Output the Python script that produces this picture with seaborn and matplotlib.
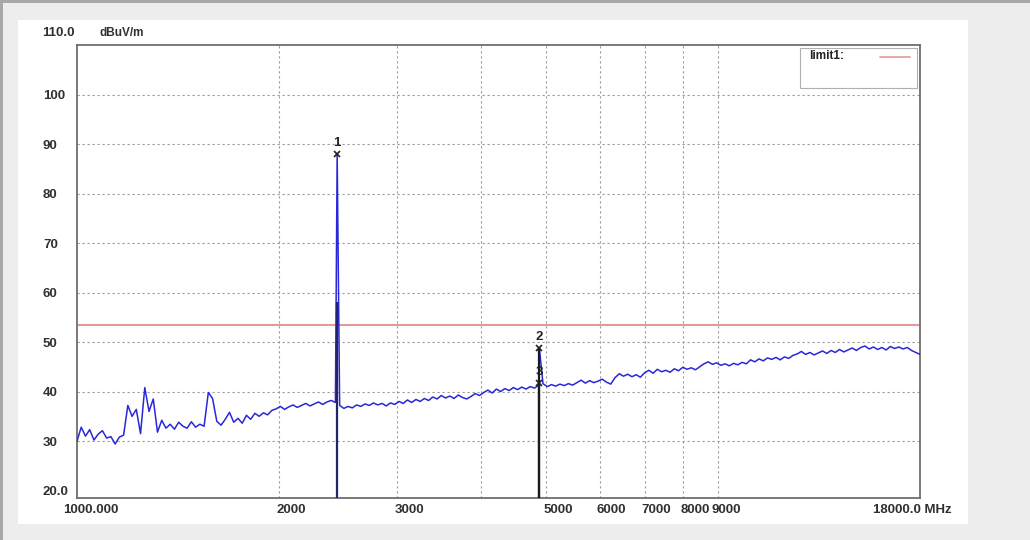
import numpy as np
import pandas as pd
import matplotlib
matplotlib.use("Agg")
import matplotlib.pyplot as plt
import matplotlib.transforms as mtransforms
from matplotlib.patches import Rectangle
import seaborn as sns

# sweep settings (MHz) and levels (dBuV/m)
f_start = 1000.0
f_stop = 18000.0
levels = [
    30.0, 32.8, 31.0, 32.3, 30.2, 31.4, 32.1, 30.6, 30.9, 29.4,
    30.8, 31.2, 37.2, 35.0, 36.4, 31.5, 40.8, 36.0, 38.5, 31.8,
    34.2, 32.6, 33.4, 32.4, 33.8, 33.0, 32.6, 33.9, 32.8, 33.4,
    33.0, 39.8, 38.6, 34.0, 33.2, 34.4, 35.8, 33.8, 34.6, 33.6,
    35.2, 34.4, 35.6, 35.0, 35.7, 35.3, 36.2, 36.5, 37.0, 36.4,
    36.9, 37.3, 36.8, 37.2, 37.6, 37.1, 37.5, 37.9, 37.4, 37.9,
    38.2, 37.8, 37.2, 36.6, 37.0, 36.7, 37.3, 37.0, 37.5, 37.2,
    37.7, 37.3, 37.6, 37.1, 37.7, 37.4, 38.0, 37.6, 38.3, 37.8,
    38.4, 38.0, 38.6, 38.2, 38.9, 38.5, 39.2, 38.7, 39.1, 38.6,
    39.3, 38.8, 38.5, 39.0, 39.6, 39.2, 39.8, 40.3, 39.7, 40.5,
    40.0, 40.6, 40.2, 40.8, 40.4, 40.9, 40.5, 41.0, 40.7, 41.3,
    41.6, 41.0, 41.4, 41.1, 41.5, 41.2, 41.6, 41.3, 41.8, 42.3,
    41.7, 42.2, 41.8, 42.1, 42.5, 41.9, 41.5, 42.8, 43.6, 43.1,
    43.5, 43.0, 43.4, 42.9, 43.8, 44.3, 43.7, 44.5, 44.0, 44.3,
    43.9, 44.6, 44.2, 44.9, 44.5, 44.8, 44.4, 45.0, 45.6, 46.0,
    45.5, 45.8, 45.3, 45.6, 45.2, 45.7, 45.4, 45.9, 45.6, 46.4,
    46.0, 46.6, 46.2, 46.8, 46.5, 46.9, 46.4, 47.0, 46.7, 47.3,
    47.6, 48.1, 47.5, 47.9, 47.4, 47.8, 48.2, 47.7, 48.3, 47.9,
    48.5, 48.0, 48.4, 48.8, 48.3, 48.9, 49.2, 48.6, 49.0, 48.5,
    48.9, 48.4, 49.1, 48.7, 49.0, 48.6, 48.9, 48.3, 47.9, 47.5,
]

# markers
marker_ids = ["1", "2", "3"]
marker_freq = [2440.0, 4880.0, 4880.0]
marker_level = [88.0, 48.8, 41.7]
marker_line_top = [58.0, 48.8, 41.7]

limit_level = 53.4
limit_name = "limit1:"

y_ticks = [20, 30, 40, 50, 60, 70, 80, 90, 100]
y_labels = ["20.0", "30", "40", "50", "60", "70", "80", "90", "100"]
x_grid = [2000, 3000, 4000, 5000, 6000, 7000, 8000, 9000]
x_label_freq = [1000, 2000, 3000, 5000, 6000, 7000, 8000, 9000, 18000]
x_labels = ["1000.000", "2000", "3000", "5000", "6000", "7000", "8000", "9000", "18000.0 MHz"]

freq = np.geomspace(f_start, f_stop, len(levels))
trace = pd.DataFrame({"freq": freq, "level": levels})
# peaks of markers 1 and 2 are part of the sweep
peaks = pd.DataFrame({"freq": marker_freq[:2], "level": marker_level[:2]})
trace = pd.concat([trace, peaks]).sort_values("freq").reset_index(drop=True)

sns.set_style("white")
plt.rcParams["font.family"] = ["Liberation Sans", "DejaVu Sans"]
plt.rcParams["font.weight"] = "bold"

txt_color = "#303030"
fs = 9.5

fig = plt.figure(figsize=(10.3, 5.4), dpi=100, facecolor="#ededed")
# white panel and the darker window edges
fig.patches.append(Rectangle((18 / 1030, 16 / 540), 950 / 1030, 504 / 540,
                             transform=fig.transFigure, facecolor="white",
                             edgecolor="none", zorder=-5))
fig.patches.append(Rectangle((0, 1 - 3 / 540), 1, 3 / 540,
                             transform=fig.transFigure, facecolor="#a8a8a8",
                             edgecolor="none", zorder=-4))
fig.patches.append(Rectangle((0, 0), 3 / 1030, 1,
                             transform=fig.transFigure, facecolor="#a8a8a8",
                             edgecolor="none", zorder=-4))
ax = fig.add_axes([77 / 1030, 42 / 540, 843 / 1030, 453 / 540])
ax.set_zorder(2)
ax.set_facecolor("white")

sns.lineplot(data=trace, x="freq", y="level", ax=ax, color="#2828d8",
             linewidth=1.1, estimator=None, sort=False, zorder=3)
ax.axhline(limit_level, color="#e39a9a", linewidth=1.5, zorder=2)

ax.set_xscale("log")
ax.set_xlim(f_start, f_stop)
ax.set_ylim(18.5, 110)

# grid
for g in x_grid:
    ax.axvline(g, color="#9a9a9a", linewidth=0.8, linestyle=(0, (2, 2.5)), zorder=1)
for g in y_ticks[1:]:
    ax.axhline(g, color="#9a9a9a", linewidth=0.8, linestyle=(0, (2, 2.5)), zorder=1)

# marker lines and symbols
line_colors = ["#23236e", "#1a1a1a", "#1a1a1a"]
for mid, mf, ml, top, lc in zip(marker_ids, marker_freq, marker_level,
                                 marker_line_top, line_colors):
    ax.vlines(mf, 18.5, top, color=lc, linewidth=1.6, zorder=4)
    ax.plot([mf], [ml], marker="x", color="#222222", markersize=5,
            markeredgewidth=1.2, zorder=5)
    ax.annotate(mid, (mf, ml), xytext=(0, 3.5), textcoords="offset points",
                ha="center", va="bottom", fontsize=fs, color="#222222",
                fontweight="bold", zorder=5)

# axes look
for s in ax.spines.values():
    s.set_color("#6e6e6e")
    s.set_linewidth(1.3)
ax.set_xticks([])
ax.set_xticks([], minor=True)
ax.set_yticks(y_ticks)
ax.set_yticklabels(y_labels, ha="left", fontsize=fs, color=txt_color,
                   fontweight="bold")
ax.tick_params(axis="y", length=0, pad=24.5)
ax.set_xlabel("")
ax.set_ylabel("")

# x labels, left aligned next to their grid line
x_shift = [-14, -3, -3, -3, -3, -3, -3, -6, -47]
blend = mtransforms.blended_transform_factory(ax.transData, ax.transAxes)
for f, lab, dx in zip(x_label_freq, x_labels, x_shift):
    tr = mtransforms.offset_copy(blend, fig=fig, x=dx, y=-6, units="dots")
    ax.text(f, 0, lab, transform=tr, ha="left", va="top", fontsize=fs,
            color=txt_color, fontweight="bold")

fig.text(42 / 1030, 1 - 33 / 540, "110.0", ha="left", va="center",
         fontsize=fs, color=txt_color, fontweight="bold")
fig.text(100 / 1030, 1 - 33 / 540, "dBuV/m", ha="left", va="center",
         fontsize=fs - 1, color=txt_color, fontweight="bold")

# limit legend box
ax.add_patch(Rectangle((0.858, 0.905), 0.138, 0.089, transform=ax.transAxes,
                       facecolor="white", edgecolor="#b0b0b0", linewidth=0.8,
                       zorder=6))
ax.text(0.868, 0.975, limit_name, transform=ax.transAxes, ha="left",
        va="center", fontsize=fs - 1, color="#222222", fontweight="bold",
        zorder=7)
ax.plot([0.952, 0.988], [0.973, 0.973], transform=ax.transAxes,
        color="#e39a9a", linewidth=1.2, zorder=7)

fig.savefig("out.png", dpi=100, facecolor=fig.get_facecolor())
